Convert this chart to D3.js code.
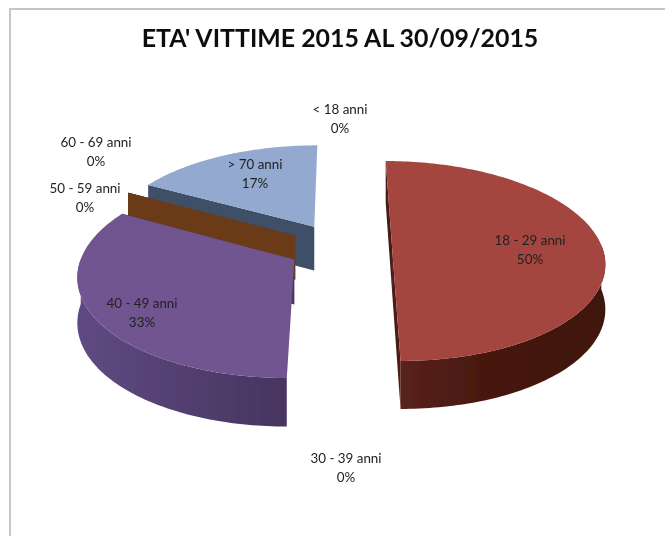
<!DOCTYPE html>
<html><head><meta charset="utf-8">
<script src="https://cdn.jsdelivr.net/npm/d3@7"></script>
<style>html,body{margin:0;padding:0;background:#fff}svg{display:block}
text{font-family:Lato,"Open Sans",sans-serif;fill:#222}</style></head>
<body><svg id="c" width="665" height="536"></svg>
<script>
const titleText = "ETA' VITTIME 2015  AL 30/09/2015";
const categories = ["< 18 anni","18 - 29 anni","30 - 39 anni","40 - 49 anni","50 - 59 anni","60 - 69 anni","> 70 anni"];
const values = [0,50,0,33,0,0,17];
const percents = ["0%","50%","0%","33%","0%","0%","17%"];
const topColors = ["#4f81bd","#a5443f","#9bbb59","#6f5590","#4bacc6","#f79646","#93a9cf"];
const wallColors = ["#2c4a6e","#4a1a15","#5a6e32","#4a3560","#2a6678","#6b3a14","#3f4f68"];
const wallLeft = ["#3a5f8c","#5a211c","#6d8540","#5f4a82","#357f94","#7f4818","#4f6280"];
const wallRight = ["#2c4a6e","#3e1410","#5a6e32","#47345f","#2a6678","#5a300f","#3f4f68"];
const labelCentres = [[340,119],[530,250],[346,468],[142,313],[85,198],[96,152],[255,174]];
const drawOrder = [0,6,4,5,3,1,2];

const svg = d3.select("#c");
const defs = svg.append("defs");
const blur = defs.append("filter").attr("id","soft").attr("x","-5%").attr("y","-5%").attr("width","110%").attr("height","110%");
blur.append("feGaussianBlur").attr("stdDeviation",0.45);
const root = svg.append("g").attr("filter","url(#soft)");

const cx=340, cy=247, rx=210, ry=98, k=0.14, explode=0.248, depth=44.5;
const scaleAt = v => 1/(1-k*v);
const project = (u,v) => [cx+rx*u*scaleAt(v), cy+ry*v*scaleAt(v)];
const dropAt = v => depth*Math.sqrt(scaleAt(v));
const line = d3.line();
const fullTurn = 2*Math.PI;

root.append("path").attr("d","M10,536V9H665").attr("fill","none").attr("stroke","#c6c6c6").attr("stroke-width",2);

root.append("text").attr("x",340).attr("y",47).attr("text-anchor","middle")
  .attr("font-size",24.9).attr("font-weight",700).style("fill","#111").text(titleText);

const arcs = d3.pie().sort(null).startAngle(0).endAngle(fullTurn)(values);

drawOrder.forEach(i=>{
  const a = arcs[i], mid=(a.startAngle+a.endAngle)/2;
  const ou = explode*Math.sin(mid), ov = -explode*Math.cos(mid);
  const pt = (th,r)=>({u:ou+r*Math.sin(th), v:ov-r*Math.cos(th)});
  const top = p => project(p.u,p.v);
  const low = p => { const q=project(p.u,p.v); return [q[0], q[1]+dropAt(p.v)]; };
  const center = pt(mid,0);
  const g = root.append("g");
  const span = a.endAngle-a.startAngle;
  let rim = [];
  if(span>0){
    const n=Math.ceil(span/0.02);
    const angles=d3.range(n+1).map(j=>a.startAngle+span*j/n);
    rim=angles.map(th=>pt(th,1));
    // only the part of the rim turned towards the viewer has a visible wall
    const front=angles.filter(th=>Math.cos(th)<0.02).map(th=>pt(th,1));
    if(front.length>1){
      const id="w"+i;
      const lg=defs.append("linearGradient").attr("id",id);
      lg.append("stop").attr("offset","0").attr("stop-color",wallLeft[i]);
      if(i===1) lg.append("stop").attr("offset","0.4").attr("stop-color","#47190f");
      lg.append("stop").attr("offset","1").attr("stop-color",wallRight[i]);
      g.append("path").attr("d",line(front.map(top).concat(front.slice().reverse().map(low)))+"Z").attr("fill","url(#"+id+")");
    }
  }
  // cut walls: none at the 12 o'clock closure, none on the front-left wedge's right edge
  [a.startAngle,a.endAngle].filter(th=>th<fullTurn-1e-6).forEach(th=>{
    const p=pt(th,1);
    if(p.v>0 && p.u<0) return;
    g.append("path").attr("d",line([top(center),top(p),low(p),low(center)])+"Z").attr("fill",wallColors[i]);
  });
  if(span>0) g.append("path").attr("d",line([center].concat(rim).map(top))+"Z").attr("fill",topColors[i]);
});

categories.forEach((c,i)=>{
  const t=root.append("text").attr("text-anchor","middle").attr("font-size",13.4);
  t.append("tspan").attr("x",labelCentres[i][0]).attr("y",labelCentres[i][1]-5).text(c);
  t.append("tspan").attr("x",labelCentres[i][0]).attr("y",labelCentres[i][1]+14).text(percents[i]);
});
</script></body></html>
